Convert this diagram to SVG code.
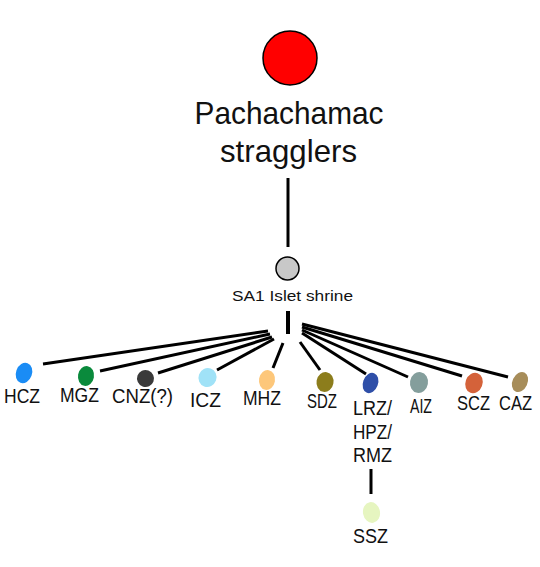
<svg xmlns="http://www.w3.org/2000/svg" width="540" height="567" viewBox="0 0 540 567">
<style>
.t{font-family:"Liberation Sans",Arial,sans-serif;fill:#111;}
.lbl{font-size:21px;}
.c{stroke:#000;stroke-width:3;stroke-linecap:butt;fill:none;}
</style>
<rect width="540" height="567" fill="#fff"/>
<g id="connectors">
<line class="c" x1="288" y1="178" x2="288" y2="247"/>
<line class="c" x1="288" y1="311" x2="288" y2="334" style="stroke-width:4"/>
<line class="c" x1="268" y1="331" x2="43" y2="364"/>
<line class="c" x1="270" y1="334" x2="100" y2="371"/>
<line class="c" x1="272" y1="337" x2="158" y2="373"/>
<line class="c" x1="274" y1="339" x2="217" y2="370"/>
<line class="c" x1="283" y1="343" x2="273" y2="368"/>
<line class="c" x1="300" y1="342" x2="320" y2="370"/>
<line class="c" x1="302" y1="333" x2="366" y2="374"/>
<line class="c" x1="302" y1="330" x2="408" y2="377"/>
<line class="c" x1="302" y1="327" x2="462" y2="376"/>
<line class="c" x1="302" y1="324" x2="508" y2="377"/>
<line class="c" x1="371" y1="469" x2="371" y2="494"/>
</g>
<g id="pachacamac">
<circle cx="290" cy="58" r="27" fill="#ff0000" stroke="#000" stroke-width="1.5"/>
<text class="t" x="289" y="124" font-size="32" text-anchor="middle" textLength="189" lengthAdjust="spacingAndGlyphs">Pachachamac</text>
<text class="t" x="288.5" y="162" font-size="32" text-anchor="middle" textLength="137" lengthAdjust="spacingAndGlyphs">stragglers</text>
</g>
<g id="sa1">
<circle cx="287.5" cy="268.5" r="11.5" fill="#c8c8c8" stroke="#000" stroke-width="1.5"/>
<text class="t" x="232" y="301" font-size="15.5" textLength="121" lengthAdjust="spacingAndGlyphs">SA1 Islet shrine</text>
</g>
<g id="hcz">
<ellipse cx="24" cy="373" rx="8" ry="10.5" transform="rotate(20 24 373)" fill="#1a8cf5"/>
<text class="t lbl" x="4" y="403" textLength="36" lengthAdjust="spacingAndGlyphs">HCZ</text>
</g>
<g id="mgz">
<ellipse cx="86" cy="376" rx="8" ry="10" transform="rotate(10 86 376)" fill="#0a8a3c"/>
<text class="t lbl" x="60" y="402" textLength="39" lengthAdjust="spacingAndGlyphs">MGZ</text>
</g>
<g id="cnz">
<ellipse cx="145.5" cy="378.5" rx="8.5" ry="8.5" transform="rotate(20 145.5 378.5)" fill="#3a3a3a"/>
<text class="t lbl" x="112" y="403" textLength="61" lengthAdjust="spacingAndGlyphs">CNZ(?)</text>
</g>
<g id="icz">
<ellipse cx="207.5" cy="377.5" rx="9" ry="9.5" transform="rotate(20 207.5 377.5)" fill="#a0e2f7"/>
<text class="t lbl" x="190" y="407" textLength="31" lengthAdjust="spacingAndGlyphs">ICZ</text>
</g>
<g id="mhz">
<ellipse cx="267" cy="380" rx="8" ry="10" transform="rotate(10 267 380)" fill="#fdc77a"/>
<text class="t lbl" x="243" y="405" textLength="38" lengthAdjust="spacingAndGlyphs">MHZ</text>
</g>
<g id="sdz">
<ellipse cx="325" cy="382" rx="8.5" ry="10" transform="rotate(10 325 382)" fill="#8c7d1c"/>
<text class="t lbl" x="307" y="408" textLength="30" lengthAdjust="spacingAndGlyphs">SDZ</text>
</g>
<g id="lrz">
<ellipse cx="370.5" cy="383" rx="7.5" ry="10.5" transform="rotate(20 370.5 383)" fill="#2f4fa8"/>
<text class="t lbl" x="353" y="415" textLength="39" lengthAdjust="spacingAndGlyphs">LRZ/</text>
<text class="t lbl" x="353" y="439" textLength="39" lengthAdjust="spacingAndGlyphs">HPZ/</text>
<text class="t lbl" x="353" y="462" textLength="39" lengthAdjust="spacingAndGlyphs">RMZ</text>
</g>
<g id="aiz">
<ellipse cx="419" cy="382.5" rx="9" ry="10.5" transform="rotate(10 419 382.5)" fill="#849e9c"/>
<text class="t lbl" x="410" y="413" textLength="22" lengthAdjust="spacingAndGlyphs">AIZ</text>
</g>
<g id="scz">
<ellipse cx="474" cy="383" rx="8.5" ry="10.5" transform="rotate(20 474 383)" fill="#d4623a"/>
<text class="t lbl" x="457" y="410" textLength="33" lengthAdjust="spacingAndGlyphs">SCZ</text>
</g>
<g id="caz">
<ellipse cx="520" cy="382" rx="7.5" ry="10.5" transform="rotate(25 520 382)" fill="#a78d5a"/>
<text class="t lbl" x="499" y="410" textLength="33" lengthAdjust="spacingAndGlyphs">CAZ</text>
</g>
<g id="ssz">
<ellipse cx="371.5" cy="512.5" rx="8.5" ry="10.5" transform="rotate(-10 371.5 512.5)" fill="#e6f5c0"/>
<text class="t lbl" x="353" y="543" textLength="35" lengthAdjust="spacingAndGlyphs">SSZ</text>
</g>
</svg>
